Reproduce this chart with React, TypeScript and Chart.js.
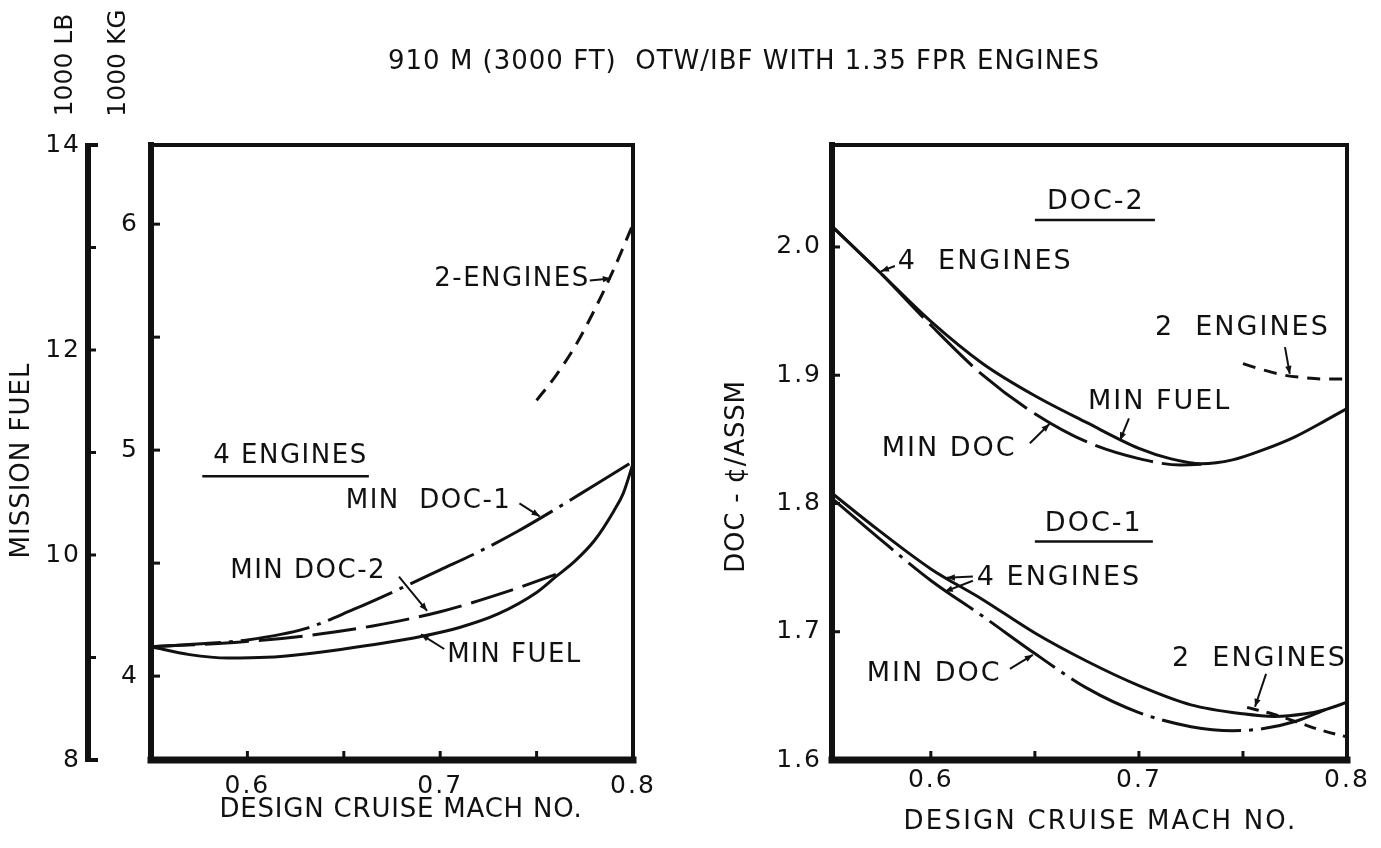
import React, { useEffect, useRef } from "react";
import { Chart, registerables } from "chart.js";

Chart.register(...registerables);

const PAGE_W = 1381;
const PAGE_H = 848;
const FONT = '"DejaVu Sans", "Liberation Sans", sans-serif';
const INK = "#111";
const KG_PER_LB = 0.45359237;

const TITLE = "910 M (3000 FT)  OTW/IBF WITH 1.35 FPR ENGINES";

// ---------- Mission fuel panel (1000 kg) ----------
const fuelMachMinFuel = [0.55, 0.57, 0.59, 0.61, 0.63, 0.65, 0.67, 0.69, 0.71, 0.73, 0.75, 0.76, 0.77, 0.78, 0.79, 0.795, 0.8];
const fuelKgMinFuel = [4.13, 4.095, 4.08, 4.083, 4.098, 4.12, 4.145, 4.175, 4.215, 4.275, 4.37, 4.44, 4.51, 4.6, 4.73, 4.81, 4.94];

const fuelMachMinDoc1 = [0.55, 0.58, 0.6, 0.63, 0.655, 0.68, 0.7, 0.72, 0.74, 0.76, 0.78, 0.8];
const fuelKgMinDoc1 = [4.13, 4.145, 4.16, 4.21, 4.295, 4.39, 4.47, 4.55, 4.64, 4.74, 4.845, 4.95];

const fuelMachMinDoc2 = [0.55, 0.595, 0.63, 0.665, 0.7, 0.735, 0.76];
const fuelKgMinDoc2 = [4.13, 4.15, 4.178, 4.222, 4.285, 4.375, 4.45];

const fuelMachTwoEng = [0.75, 0.76, 0.77, 0.78, 0.79, 0.8];
const fuelKgTwoEng = [5.22, 5.33, 5.46, 5.62, 5.8, 6.0];

// ---------- DOC panel (cents / available seat statute mile) ----------
const doc2MachMinFuel = [0.5525, 0.575, 0.6, 0.625, 0.65, 0.675, 0.7, 0.715, 0.73, 0.745, 0.76, 0.775, 0.79, 0.8];
const doc2CostMinFuel = [2.016, 1.981, 1.942, 1.909, 1.884, 1.863, 1.843, 1.835, 1.831, 1.834, 1.842, 1.852, 1.865, 1.874];

const doc2MachMinDoc = [0.5525, 0.575, 0.6, 0.625, 0.65, 0.675, 0.7, 0.72, 0.73];
const doc2CostMinDoc = [2.016, 1.981, 1.939, 1.9, 1.87, 1.848, 1.835, 1.83, 1.8305];

const doc2MachTwoEng = [0.75, 0.76, 0.77, 0.78, 0.79, 0.8];
const doc2CostTwoEng = [1.909, 1.904, 1.9, 1.898, 1.897, 1.897];

const doc1MachMinFuel = [0.5525, 0.575, 0.6, 0.625, 0.65, 0.675, 0.7, 0.725, 0.75, 0.765, 0.78, 0.79, 0.8];
const doc1CostMinFuel = [1.808, 1.779, 1.749, 1.725, 1.699, 1.677, 1.658, 1.643, 1.636, 1.634, 1.636, 1.6395, 1.645];

const doc1MachMinDoc = [0.5525, 0.575, 0.6, 0.625, 0.65, 0.675, 0.7, 0.725, 0.745, 0.76, 0.775, 0.79];
const doc1CostMinDoc = [1.804, 1.773, 1.74, 1.712, 1.683, 1.656, 1.637, 1.626, 1.6228, 1.6245, 1.63, 1.6395];

const doc1MachTwoEng = [0.752, 0.765, 0.777, 0.787, 0.8];
const doc1CostTwoEng = [1.641, 1.6355, 1.629, 1.6235, 1.618];

// ---------- Axes ----------
const machLabels = [0.6, 0.7, 0.8];
const machMarks = [0.6, 0.65, 0.7, 0.75];
const kgLabels = [4, 5, 6];
const kgMarks = [4, 4.5, 5, 5.5, 6];
const lbLabels = [8, 10, 12, 14];
const lbMarks = [9, 10, 11, 12, 13];
const docLabels = [1.6, 1.7, 1.8, 1.9, 2.0];
const docMarks = [1.7, 1.8, 1.9, 2.0];

// ---------- Callouts: [text, mach, value] and leaders [x1, y1, x2, y2] ----------
const fuelNotes: [string, number, number][] = [
  ["2-ENGINES", 0.6969, 5.756],
  ["4 ENGINES", 0.5823, 4.973],
  ["MIN  DOC-1", 0.651, 4.773],
  ["MIN DOC-2", 0.5911, 4.462],
  ["MIN FUEL", 0.7036, 4.093],
];
const fuelUnderlines: [number, number, number][] = [[0.5766, 0.663, 4.884]];
const fuelLeaders: [number, number, number, number][] = [
  [0.7776, 5.751, 0.7885, 5.76],
  [0.7411, 4.764, 0.7516, 4.707],
  [0.6786, 4.44, 0.6932, 4.289],
  [0.7021, 4.12, 0.69, 4.185],
];

const docNotes: [string, number, number][] = [
  ["DOC-2", 0.6558, 2.0352],
  ["4  ENGINES", 0.5841, 1.9883],
  ["2  ENGINES", 0.7077, 1.9367],
  ["MIN FUEL", 0.6755, 1.8789],
  ["MIN DOC", 0.5764, 1.8422],
  ["DOC-1", 0.6548, 1.7844],
  ["4 ENGINES", 0.6221, 1.7422],
  ["MIN DOC", 0.5692, 1.6672],
  ["2  ENGINES", 0.7159, 1.6789],
];
const docUnderlines: [number, number, number][] = [
  [0.65, 0.7077, 2.0211],
  [0.65, 0.7067, 1.7703],
];
const docLeaders: [number, number, number, number][] = [
  [0.5827, 1.9852, 0.576, 1.981],
  [0.7702, 1.9219, 0.7725, 1.901],
  [0.6952, 1.8664, 0.6909, 1.8492],
  [0.6476, 1.8469, 0.657, 1.862],
  [0.6202, 1.743, 0.6077, 1.742],
  [0.6202, 1.7398, 0.6067, 1.7313],
  [0.638, 1.671, 0.649, 1.682],
  [0.7611, 1.6672, 0.7558, 1.6415],
];

const pts = (xs: number[], ys: number[]) => xs.map((x, i) => ({ x, y: ys[i] }));

function series(label: string, xs: number[], ys: number[], dash: number[] = []) {
  return {
    label,
    data: pts(xs, ys),
    borderColor: INK,
    borderWidth: 3,
    borderDash: dash,
    borderCapStyle: "butt" as const,
    pointRadius: 0,
    fill: false,
    cubicInterpolationMode: "monotone" as const,
    yAxisID: "y",
  };
}

function seg(ctx: CanvasRenderingContext2D, x1: number, y1: number, x2: number, y2: number, w: number) {
  ctx.lineWidth = w;
  ctx.beginPath();
  ctx.moveTo(x1, y1);
  ctx.lineTo(x2, y2);
  ctx.stroke();
}

function label(
  ctx: CanvasRenderingContext2D,
  s: string,
  x: number,
  y: number,
  size: number,
  align: CanvasTextAlign = "left",
  rot = 0,
  spacing = 0
) {
  ctx.save();
  ctx.translate(x, y);
  ctx.rotate(rot);
  ctx.font = `${size}px ${FONT}`;
  (ctx as any).letterSpacing = `${spacing}px`;
  ctx.textAlign = align;
  ctx.textBaseline = "middle";
  ctx.fillStyle = INK;
  ctx.fillText(s, 0, 0);
  ctx.restore();
}

function arrow(ctx: CanvasRenderingContext2D, x1: number, y1: number, x2: number, y2: number) {
  seg(ctx, x1, y1, x2, y2, 2);
  const a = Math.atan2(y2 - y1, x2 - x1);
  const len = 8;
  const hw = 3.2;
  ctx.beginPath();
  ctx.moveTo(x2, y2);
  ctx.lineTo(x2 - len * Math.cos(a) + hw * Math.sin(a), y2 - len * Math.sin(a) - hw * Math.cos(a));
  ctx.lineTo(x2 - len * Math.cos(a) - hw * Math.sin(a), y2 - len * Math.sin(a) + hw * Math.cos(a));
  ctx.closePath();
  ctx.fill();
}

function frame(ctx: CanvasRenderingContext2D, a: { left: number; right: number; top: number; bottom: number }) {
  ctx.lineCap = "square";
  seg(ctx, a.left, a.top, a.right, a.top, 4);
  seg(ctx, a.right, a.top, a.right, a.bottom, 4);
  seg(ctx, a.left, a.top, a.left, a.bottom, 6);
  seg(ctx, a.left, a.bottom, a.right, a.bottom, 7);
  ctx.lineCap = "butt";
}

function callouts(
  chart: Chart,
  notes: [string, number, number][],
  unders: [number, number, number][],
  leaders: [number, number, number, number][],
  size: number,
  spacing: number
) {
  const ctx = chart.ctx;
  const xs = chart.scales.x;
  const ys = chart.scales.y;
  notes.forEach(([t, x, y]) => label(ctx, t, xs.getPixelForValue(x), ys.getPixelForValue(y), size, "left", 0, spacing));
  unders.forEach(([x1, x2, y]) => {
    const py = ys.getPixelForValue(y);
    seg(ctx, xs.getPixelForValue(x1), py, xs.getPixelForValue(x2), py, 2.5);
  });
  leaders.forEach(([x1, y1, x2, y2]) =>
    arrow(ctx, xs.getPixelForValue(x1), ys.getPixelForValue(y1), xs.getPixelForValue(x2), ys.getPixelForValue(y2))
  );
}

// Wider tracking for the tick labels drawn by the scales
const tickTracking = {
  id: "tickTracking",
  beforeDraw(chart: Chart) {
    (chart.ctx as any).letterSpacing = "2px";
  },
  afterDraw(chart: Chart) {
    (chart.ctx as any).letterSpacing = "0px";
  },
};

const fuelDecor = {
  id: "fuelDecor",
  afterDraw(chart: Chart) {
    const ctx = chart.ctx;
    const a = chart.chartArea;
    const xs = chart.scales.x;
    const ys = chart.scales.y;
    const lb = chart.scales.lb;
    ctx.save();
    (ctx as any).letterSpacing = "0px";
    ctx.strokeStyle = INK;
    ctx.fillStyle = INK;
    frame(ctx, a);
    machMarks.forEach((v) => {
      const px = xs.getPixelForValue(v);
      seg(ctx, px, a.bottom, px, a.bottom - 9, 3);
    });
    kgMarks.forEach((v) => {
      const py = ys.getPixelForValue(v);
      seg(ctx, a.left, py, a.left + 9, py, 3);
    });
    // outer 1000 lb scale
    const lx = lb.right;
    const top = lb.getPixelForValue(14);
    const bot = lb.getPixelForValue(8);
    seg(ctx, lx, top - 2, lx, bot + 2, 6);
    seg(ctx, lx - 3, top, lx + 10, top, 4);
    seg(ctx, lx - 3, bot, lx + 10, bot, 4);
    lbMarks.forEach((v) => {
      const py = lb.getPixelForValue(v);
      seg(ctx, lx, py, lx + 8, py, 3);
    });
    callouts(chart, fuelNotes, fuelUnderlines, fuelLeaders, 26, 1.5);
    label(ctx, "DESIGN CRUISE MACH NO.", (a.left + a.right) / 2 + 9, a.bottom + 50, 26, "center", 0, 0.8);
    label(ctx, "MISSION FUEL", 22, (a.top + a.bottom) / 2 + 8, 26, "center", -Math.PI / 2, 1);
    label(ctx, "1000 LB", lx - 23, 65, 25, "center", -Math.PI / 2);
    label(ctx, "1000 KG", a.left - 33, 63, 25, "center", -Math.PI / 2);
    label(ctx, TITLE, 388, 62, 26, "left", 0, 1);
    ctx.restore();
  },
};

const docDecor = {
  id: "docDecor",
  afterDraw(chart: Chart) {
    const ctx = chart.ctx;
    const a = chart.chartArea;
    const xs = chart.scales.x;
    const ys = chart.scales.y;
    ctx.save();
    (ctx as any).letterSpacing = "0px";
    ctx.strokeStyle = INK;
    ctx.fillStyle = INK;
    frame(ctx, a);
    machMarks.forEach((v) => {
      const px = xs.getPixelForValue(v);
      seg(ctx, px, a.bottom, px, a.bottom - 9, 3);
    });
    docMarks.forEach((v) => {
      const py = ys.getPixelForValue(v);
      seg(ctx, a.left, py, a.left + 8, py, 3);
    });
    callouts(chart, docNotes, docUnderlines, docLeaders, 27, 2);
    label(ctx, "DESIGN CRUISE MACH NO.", (a.left + a.right) / 2 + 11, a.bottom + 62, 26, "center", 0, 2.2);
    label(ctx, "DOC - \u00A2/ASSM", a.left - 95, (a.top + a.bottom) / 2 + 24, 26, "center", -Math.PI / 2, 0.8);
    ctx.restore();
  },
};

const tickFont = { family: FONT, size: 25 };

function fixedTicks(values: number[]) {
  return (scale: any) => {
    scale.ticks = values.map((value) => ({ value }));
  };
}

function fuelConfig(): any {
  return {
    type: "line",
    data: {
      datasets: [
        series("MIN FUEL", fuelMachMinFuel, fuelKgMinFuel),
        series("MIN DOC-1", fuelMachMinDoc1, fuelKgMinDoc1, [70, 8, 4, 8]),
        series("MIN DOC-2", fuelMachMinDoc2, fuelKgMinDoc2, [44, 10]),
        series("2-ENGINES", fuelMachTwoEng, fuelKgTwoEng, [14, 9]),
      ],
    },
    options: {
      responsive: false,
      animation: false,
      devicePixelRatio: 1,
      events: [],
      layout: { padding: { left: 0, top: 145, right: 748, bottom: 0 } },
      plugins: { legend: { display: false }, tooltip: { enabled: false }, title: { display: false } },
      scales: {
        x: {
          type: "linear",
          position: "bottom",
          min: 0.55,
          max: 0.8,
          afterBuildTicks: fixedTicks(machLabels),
          afterFit: (s: any) => {
            s.height = 88;
          },
          ticks: { font: tickFont, color: INK, padding: 11, maxRotation: 0, autoSkip: false, callback: (v: number) => v.toFixed(1) },
          grid: { display: false, drawTicks: false },
          border: { display: false },
        },
        y: {
          type: "linear",
          position: "left",
          weight: 0,
          min: 8 * KG_PER_LB,
          max: 14 * KG_PER_LB,
          afterBuildTicks: fixedTicks(kgLabels),
          afterFit: (s: any) => {
            s.width = 63;
          },
          ticks: { font: tickFont, color: INK, padding: 12, autoSkip: false, callback: (v: number) => String(v) },
          grid: { display: false, drawTicks: false },
          border: { display: false },
        },
        lb: {
          type: "linear",
          position: "left",
          weight: 1,
          min: 8,
          max: 14,
          afterBuildTicks: fixedTicks(lbLabels),
          afterFit: (s: any) => {
            s.width = 88;
          },
          ticks: { font: tickFont, color: INK, padding: 7, autoSkip: false, callback: (v: number) => String(v) },
          grid: { display: false, drawTicks: false },
          border: { display: false },
        },
      },
    },
    plugins: [tickTracking, fuelDecor],
  };
}

function docConfig(): any {
  return {
    type: "line",
    data: {
      datasets: [
        series("DOC-2 MIN FUEL", doc2MachMinFuel, doc2CostMinFuel),
        series("DOC-2 MIN DOC", doc2MachMinDoc, doc2CostMinDoc, [60, 9]),
        series("DOC-2 2 ENGINES", doc2MachTwoEng, doc2CostTwoEng, [13, 9]),
        series("DOC-1 MIN FUEL", doc1MachMinFuel, doc1CostMinFuel),
        series("DOC-1 MIN DOC", doc1MachMinDoc, doc1CostMinDoc, [80, 8, 4, 8]),
        series("DOC-1 2 ENGINES", doc1MachTwoEng, doc1CostTwoEng, [12, 8]),
      ],
    },
    options: {
      responsive: false,
      animation: false,
      devicePixelRatio: 1,
      events: [],
      layout: { padding: { left: 0, top: 145, right: 34, bottom: 0 } },
      plugins: { legend: { display: false }, tooltip: { enabled: false }, title: { display: false } },
      scales: {
        x: {
          type: "linear",
          position: "bottom",
          min: 0.5525,
          max: 0.8,
          afterBuildTicks: fixedTicks(machLabels),
          afterFit: (s: any) => {
            s.height = 88;
          },
          ticks: { font: tickFont, color: INK, padding: 5, maxRotation: 0, autoSkip: false, callback: (v: number) => v.toFixed(1) },
          grid: { display: false, drawTicks: false },
          border: { display: false },
        },
        y: {
          type: "linear",
          position: "left",
          min: 1.6,
          max: 2.0795,
          afterBuildTicks: fixedTicks(docLabels),
          afterFit: (s: any) => {
            s.width = 832;
          },
          ticks: { font: tickFont, color: INK, padding: 10, autoSkip: false, callback: (v: number) => v.toFixed(1) },
          grid: { display: false, drawTicks: false },
          border: { display: false },
        },
      },
    },
    plugins: [tickTracking, docDecor],
  };
}

export default function App() {
  const fuelRef = useRef<HTMLCanvasElement>(null);
  const docRef = useRef<HTMLCanvasElement>(null);

  useEffect(() => {
    const fuel = new Chart(fuelRef.current as HTMLCanvasElement, fuelConfig());
    const doc = new Chart(docRef.current as HTMLCanvasElement, docConfig());
    return () => {
      fuel.destroy();
      doc.destroy();
    };
  }, []);

  const canvasStyle: React.CSSProperties = { position: "absolute", left: 0, top: 0, width: PAGE_W, height: PAGE_H };
  return (
    <div style={{ position: "fixed", left: 0, top: 0, width: PAGE_W, height: PAGE_H, background: "#fff", overflow: "hidden" }}>
      <canvas ref={fuelRef} width={PAGE_W} height={PAGE_H} style={canvasStyle} />
      <canvas ref={docRef} width={PAGE_W} height={PAGE_H} style={canvasStyle} />
    </div>
  );
}
